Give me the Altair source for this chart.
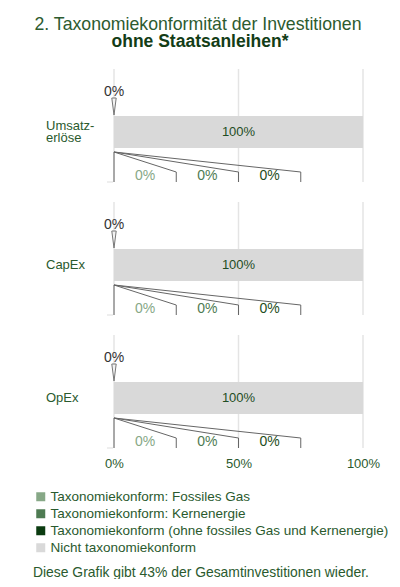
import altair as alt
import pandas as pd

# ---------------- data ----------------
categories = ["Umsatzerlöse", "CapEx", "OpEx"]
category_labels = ["Umsatz-\nerlöse", "CapEx", "OpEx"]
series_names = [
    "Taxonomiekonform: Fossiles Gas",
    "Taxonomiekonform: Kernenergie",
    "Taxonomiekonform (ohne fossiles Gas und Kernenergie)",
    "Nicht taxonomiekonform",
]
fossil_gas = [0, 0, 0]
nuclear = [0, 0, 0]
aligned_other = [0, 0, 0]
not_aligned = [100, 100, 100]
aligned_total = [0, 0, 0]
x_ticks = [0, 50, 100]
title_line1 = "2. Taxonomiekonformität der Investitionen"
title_line2 = "ohne Staatsanleihen*"
footer_text = "Diese Grafik gibt 43% der Gesamtinvestitionen wieder."

# ---------------- style / layout ----------------
series_colors = ["#87a887", "#4e7b52", "#0b3b10", "#d9d9d9"]
TXT = "#2a5a2e"
FONT = "Liberation Sans"
W, H = 249, 379
STEP, PANEL_H = 133, 113
TOP_LABEL, PIN, BAR0, BAR1 = 23, 37.5, 47, 79
LEAD0, LEAD1, LEAD2, LOW_LABEL = 83, 103, 113, 107
SLOT = 25  # width of a callout slot, in axis percent
CAT_LH = 12.5

series_values = [fossil_gas, nuclear, aligned_other, not_aligned]

bar_rows, grid_rows, pin_rows, lead_rows, low_rows, cat_rows = [], [], [], [], [], []
for i, cat in enumerate(categories):
    start = 0
    starts = []
    for k, name in enumerate(series_names):
        v = series_values[k][i]
        starts.append(start)
        bar_rows.append(dict(cat=cat, label=category_labels[i], row=i, series=name,
                             value=v, start=start, end=start + v))
        start += v
    for g in x_ticks:
        grid_rows.append(dict(row=i, gx=g))
    pin_rows.append(dict(row=i, total=aligned_total[i],
                         txt=f"{aligned_total[i]}%"))
    nlines = category_labels[i].count("\n") + 1
    cat_rows.append(dict(row=i, label=category_labels[i],
                         off=(BAR0 + BAR1) / 2 - (nlines - 1) * CAT_LH / 2))
    # left edge of the first slot
    lead_rows.append(dict(row=i, lid="edge", pt=0, lx=starts[0], off=LEAD0))
    lead_rows.append(dict(row=i, lid="edge", pt=1, lx=starts[0], off=LEAD2))
    for k in range(3):
        end_x = SLOT * (k + 1)
        lid = f"s{k}"
        lead_rows.append(dict(row=i, lid=lid, pt=0, lx=starts[k], off=LEAD0))
        lead_rows.append(dict(row=i, lid=lid, pt=1, lx=end_x, off=LEAD1))
        lead_rows.append(dict(row=i, lid=lid, pt=2, lx=end_x, off=LEAD2))
        low_rows.append(dict(row=i, lx=SLOT * k + SLOT / 2,
                             txt=f"{series_values[k][i]}%",
                             col=series_colors[k] if k < 2 else "#1f4d22"))

bars = pd.DataFrame(bar_rows)
grid = pd.DataFrame(grid_rows)
pins = pd.DataFrame(pin_rows)
leads = pd.DataFrame(lead_rows)
lows = pd.DataFrame(low_rows)
cats = pd.DataFrame(cat_rows)

xscale = alt.Scale(domain=[0, 100], nice=False, zero=True)
yscale = alt.Scale(domain=[0, H], reverse=True, nice=False, zero=False)
xaxis = alt.Axis(values=x_ticks, labelExpr="datum.value + '%'", grid=False,
                 domain=False, ticks=False, tickSize=0, labelPadding=9,
                 labelFlush=False, labelOverlap=False,
                 labelFontSize=13, labelColor=TXT, labelFont=FONT, title=None)


def X(field):
    return alt.X(field, scale=xscale, axis=xaxis, title=None)


def Y(field="yp:Q"):
    return alt.Y(field, scale=yscale, axis=None, title=None)


gridlines = alt.Chart(grid).transform_calculate(
    y0=f"datum.row*{STEP}", y1=f"datum.row*{STEP}+{PANEL_H}"
).mark_rule(color="#e4e4e4", strokeWidth=1.5).encode(
    x=X("gx:Q"), y=Y("y0:Q"), y2="y1:Q")

stubs = alt.Chart(cats).transform_calculate(
    yp=f"datum.row*{STEP}+{PANEL_H}"
).mark_rule(color="#dddddd", strokeWidth=1).encode(
    x=alt.value(-7), x2=alt.value(-1), y=Y())

bar_layer = alt.Chart(bars).transform_calculate(
    y0=f"datum.row*{STEP}+{BAR0}", y1=f"datum.row*{STEP}+{BAR1}"
).mark_bar().encode(
    x=X("start:Q"), x2="end:Q", y=Y("y0:Q"), y2="y1:Q",
    color=alt.Color("series:N",
                    scale=alt.Scale(domain=series_names, range=series_colors),
                    legend=alt.Legend(orient="none", legendX=-80, legendY=421,
                                      title=None, symbolType="square",
                                      symbolSize=81, symbolStrokeWidth=0,
                                      labelFontSize=13.5, labelColor=TXT,
                                      labelFont=FONT, labelLimit=400,
                                      rowPadding=2, labelOffset=3, padding=0)),
)

bar_text = alt.Chart(bars).transform_filter(
    "datum.value > 0 && datum.series == 'Nicht taxonomiekonform'"
).transform_calculate(
    mid="(datum.start + datum.end) / 2", yp=f"datum.row*{STEP}+{(BAR0 + BAR1) / 2}",
    txt="datum.value + '%'"
).mark_text(fontSize=13, color="#1f4d24", baseline="middle").encode(
    x=X("mid:Q"), y=Y(), text="txt:N")

pin_layer = alt.Chart(pins).transform_calculate(
    yp=f"datum.row*{STEP}+{PIN}"
).mark_point(shape="M-0.26,-1L0.26,-1L0,1Z", size=289, filled=True,
             fill="#f2f2f2", stroke="#777777", strokeWidth=1, opacity=1).encode(
    x=X("total:Q"), y=Y())

top_text = alt.Chart(pins).transform_calculate(
    yp=f"datum.row*{STEP}+{TOP_LABEL}"
).mark_text(fontSize=14, color="#333333", baseline="middle").encode(
    x=X("total:Q"), y=Y(), text="txt:N")

lead_layer = alt.Chart(leads).transform_calculate(
    yp=f"datum.row*{STEP}+datum.off"
).mark_line(color="#666666", strokeWidth=1).encode(
    x=X("lx:Q"), y=Y(), detail=["row:N", "lid:N"], order="pt:Q")

low_text = alt.Chart(lows).transform_calculate(
    yp=f"datum.row*{STEP}+{LOW_LABEL}"
).mark_text(fontSize=14, baseline="middle").encode(
    x=X("lx:Q"), y=Y(), text="txt:N", color=alt.Color("col:N", scale=None))

cat_text = alt.Chart(cats).transform_calculate(
    yp=f"datum.row*{STEP}+datum.off"
).mark_text(fontSize=13, color=TXT, align="left", baseline="middle",
            lineBreak="\n", lineHeight=CAT_LH).encode(
    x=alt.value(-68), y=Y(), text="label:N")

title1 = alt.Chart(pd.DataFrame({"t": [title_line1]})).mark_text(
    fontSize=17.7, color="#2d5b2f", align="center", baseline="alphabetic"
).encode(x=alt.value(84), y=alt.value(-39), text="t:N")

title2 = alt.Chart(pd.DataFrame({"t": [title_line2]})).mark_text(
    fontSize=17.5, fontWeight="bold", color="#133d17", align="center",
    baseline="alphabetic"
).encode(x=alt.value(86), y=alt.value(-22.5), text="t:N")

footer = alt.Chart(pd.DataFrame({"t": [footer_text]})).mark_text(
    fontSize=13.9, color=TXT, align="left", baseline="middle"
).encode(x=alt.value(-81), y=alt.value(503.5), text="t:N")

chart = alt.layer(
    gridlines, stubs, bar_layer, bar_text, pin_layer, top_text, lead_layer,
    low_text, cat_text, title1, title2, footer
).properties(
    width=W, height=H,
    padding={"left": 106, "top": 61, "right": 28, "bottom": 131},
    autosize=alt.AutoSizeParams(type="none"),
).configure(font=FONT).configure_view(stroke=None)

chart.save("out.html", embed_options={"renderer": "svg", "actions": False})
